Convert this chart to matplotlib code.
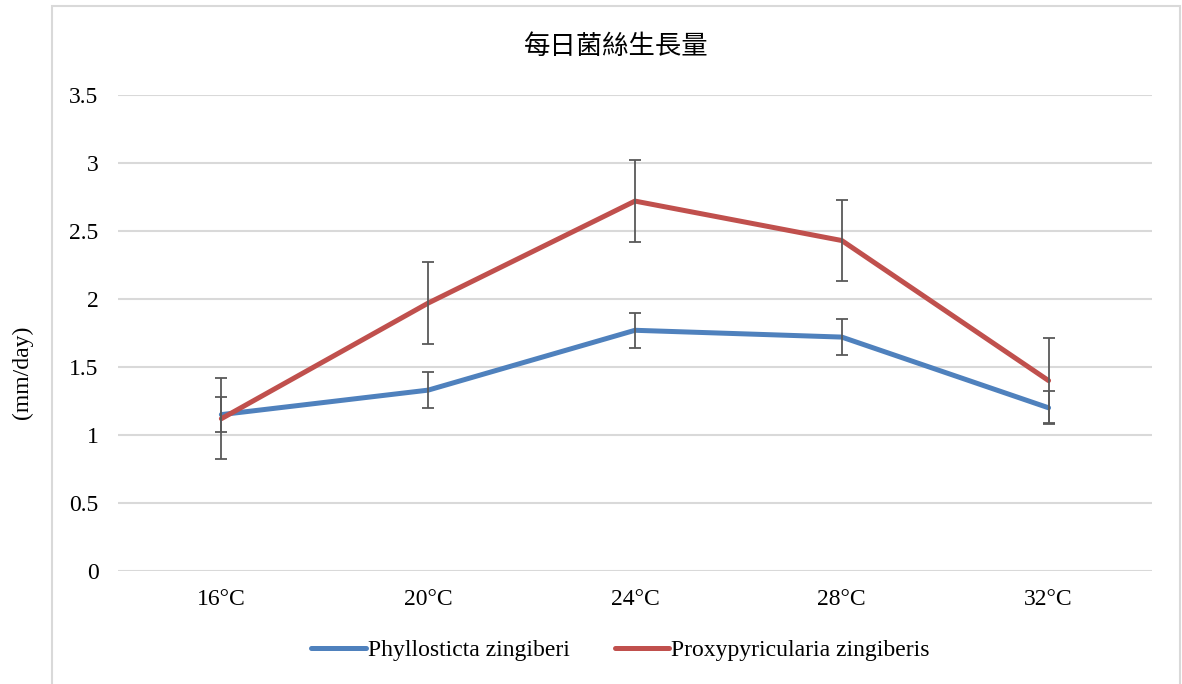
import matplotlib
matplotlib.use("Agg")
import matplotlib.pyplot as plt
from matplotlib.patches import Rectangle

# data
temps = ['16°C', '20°C', '24°C', '28°C', '32°C']
phyllo = [1.15, 1.33, 1.77, 1.72, 1.20]
phyllo_err = [0.13, 0.13, 0.13, 0.13, 0.12]
proxy = [1.12, 1.97, 2.72, 2.43, 1.40]
proxy_err = [0.30, 0.30, 0.30, 0.30, 0.31]
names = ['Phyllosticta zingiberi', 'Proxypyricularia zingiberis']

plt.rcParams['font.family'] = ['Liberation Serif', 'Noto Sans CJK TC']

fig = plt.figure(figsize=(11.82, 6.84), dpi=100)
ax = fig.add_axes([0.0998, 0.1652, 0.8748, 0.6959])

x = range(len(temps))
ax.plot(x, phyllo, color='#4F81BD', lw=3.6, solid_capstyle='round', label=names[0], zorder=3)
ax.plot(x, proxy, color='#C0504D', lw=3.6, solid_capstyle='round', label=names[1], zorder=3)
ax.errorbar(x, phyllo, yerr=phyllo_err, fmt='none', ecolor='#595959', elinewidth=1.3, capsize=4.5, capthick=1.3, zorder=4)
ax.errorbar(x, proxy, yerr=proxy_err, fmt='none', ecolor='#595959', elinewidth=1.3, capsize=4.5, capthick=1.3, zorder=4)

ax.set_xlim(-0.5, 4.5)
ax.set_ylim(0, 3.5)
ax.set_yticks([0, 0.5, 1, 1.5, 2, 2.5, 3, 3.5])
ax.set_yticklabels(['0', '0.5', '1', '1.5', '2', '2.5', '3', '3.5'])
ax.set_xticks(list(x))
ax.set_xticklabels(temps)
ax.tick_params(length=0, labelsize=17, colors='black')
ax.tick_params(axis='y', pad=14)
ax.tick_params(axis='x', pad=13)
ax.grid(axis='y', color='#d9d9d9', lw=1.5)
ax.set_axisbelow(True)
for s in ax.spines.values():
    s.set_visible(False)

fig.text(0.019, 0.456, '(mm/day)', rotation=90, fontsize=17, ha='center', va='center')
fig.text(0.521, 0.932, '每日菌絲生長量', fontsize=19, ha='center', va='center',
         family=['Noto Sans CJK TC'], fontweight='light')

fig.legend(loc='center', bbox_to_anchor=(0.525, 0.049), ncol=2, frameon=False,
           fontsize=17, handlelength=2.3, handletextpad=0.1, columnspacing=1.9)

# chart area border
fig.patches.append(Rectangle((52 / 1182, -0.01), 1128 / 1182, 1 - 6 / 684 + 0.01,
                             transform=fig.transFigure, fill=False,
                             edgecolor='#d9d9d9', lw=1.5))

fig.savefig('out.png', dpi=100)
